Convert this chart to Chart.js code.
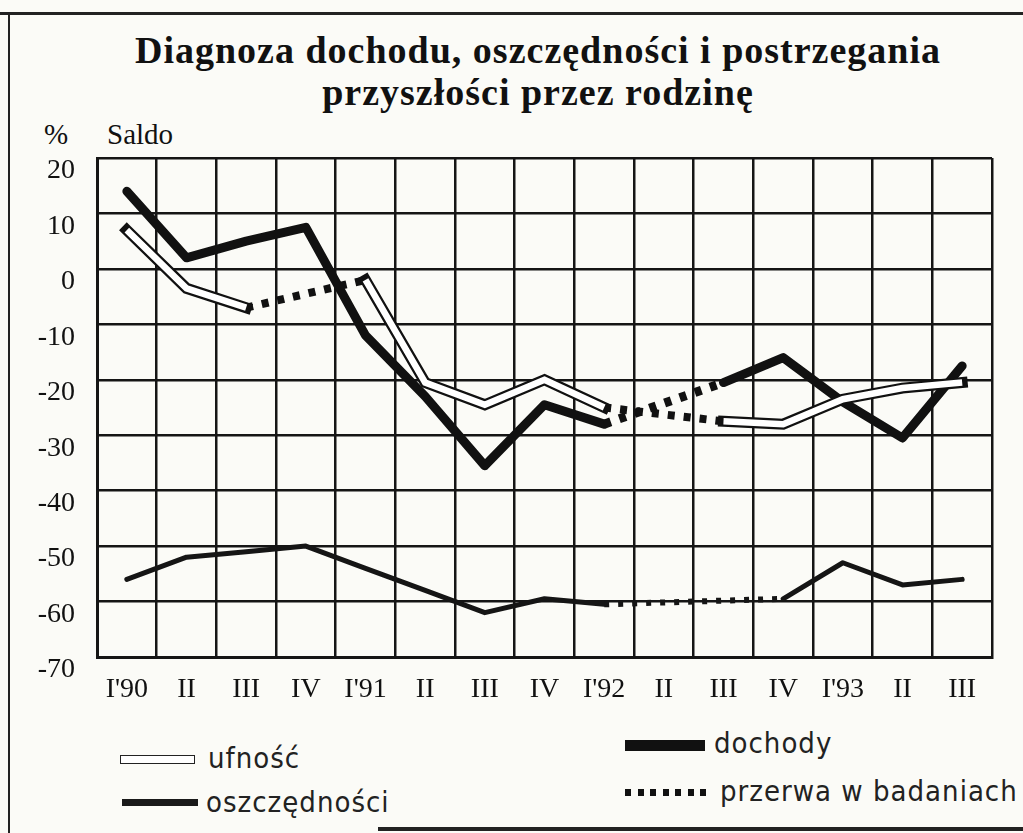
<!DOCTYPE html>
<html lang="pl">
<head>
<meta charset="utf-8">
<title>Diagnoza dochodu</title>
<script src="https://cdn.jsdelivr.net/npm/chart.js@4.4.1/dist/chart.umd.min.js"></script>
<style>
  html, body { margin: 0; padding: 0; }
  body { width: 1023px; height: 833px; background: #fbfbf7; position: relative; overflow: hidden; color: #111; }
  .frame-top { position: absolute; left: 0; top: 12px; width: 1023px; height: 3px; background: #222; }
  .frame-left { position: absolute; left: 8px; top: 12px; width: 2px; height: 821px; background: #222; }
  .frame-bottom { position: absolute; left: 378px; top: 827px; width: 645px; height: 4px; background: #222; }
  .title { position: absolute; left: 0; top: 29px; width: 1076px; text-align: center;
           font-family: "Liberation Serif", "Times New Roman", serif; font-weight: bold;
           font-size: 38px; line-height: 42px; letter-spacing: 1px; }
  .unit { position: absolute; top: 118px; font-family: "Liberation Serif", serif; font-size: 29px; }
  #chartBox { position: absolute; left: 0; top: 130px; width: 1023px; height: 580px; }
  .leg { position: absolute; font-family: "Liberation Sans Narrow", "DejaVu Sans Condensed", "Liberation Sans", sans-serif;
         font-size: 29px; color: #222; line-height: 32px; letter-spacing: 1px; }
  .sw { position: absolute; }
</style>
</head>
<body>
<div class="frame-top"></div>
<div class="frame-left"></div>
<div class="frame-bottom"></div>

<div class="title">Diagnoza dochodu, oszczędności i postrzegania<br>przyszłości przez rodzinę</div>
<div class="unit" style="left:44px;">%</div>
<div class="unit" style="left:107px;">Saldo</div>

<div id="chartBox"><canvas id="chart"></canvas></div>

<!-- legend -->
<div class="sw" style="left:120px; top:755px; width:73px; height:7px; border:1.5px solid #222; background:#fff;"></div>
<div class="leg" style="left:208px; top:742px;">ufność</div>
<div class="sw" style="left:122px; top:799px; width:76px; height:7px; background:#1a1a1a;"></div>
<div class="leg" style="left:206px; top:786px;">oszczędności</div>
<div class="sw" style="left:625px; top:740px; width:80px; height:11px; background:#111;"></div>
<div class="leg" style="left:714px; top:727px;">dochody</div>
<div id="dots" class="sw" style="left:625px; top:789px; width:86px; height:7px;"></div>
<div class="leg" style="left:720px; top:775px;">przerwa w badaniach</div>

<script>
// quarters I'90 .. III'93
const quarters = ["I'90", "II", "III", "IV", "I'91", "II", "III", "IV", "I'92", "II", "III", "IV", "I'93", "II", "III"];

// saldo, % (null = przerwa w badaniach)
const dochody      = [14, 2, 5, 7.5, -12, -23, -35.5, -24.5, -28, null, -20.5, -16, -24, -30.5, -17.5];
const ufnosc       = [7, -3.5, -7, null, -2, -20.5, -24.5, -20, -25, null, -27.5, -28, -23.5, -21.5, -20.5];
const oszczednosci = [-56, -52, -51, -50, -54, -58, -62, -59.5, -60.5, null, null, -59.5, -53, -57, -56];

const yMin = -70, yMax = 20, yStep = 10;

// legend dots
const dots = document.getElementById('dots');
for (let i = 0; i < 7; i++) {
    dots.insertAdjacentHTML('beforeend',
        `<span style="position:absolute; left:${i * 12.5}px; top:0; width:6px; height:7px; background:#111;"></span>`);
}

// dashed line across missing quarters
const gap = (ctx, v) => (ctx.p0.skip || ctx.p1.skip) ? v : undefined;

new Chart(document.getElementById('chart'), {
    type: 'line',
    data: {
        labels: quarters,
        datasets: [
            {
                label: 'ufność',
                data: ufnosc,
                borderColor: '#fff',
                borderWidth: 6.5,
                spanGaps: false,
                borderCapStyle: 'butt',
                borderJoinStyle: 'miter',
                pointRadius: 0,
                order: 1
            },
            {
                label: 'ufność (kontur)',
                data: ufnosc,
                borderColor: '#111',
                borderWidth: 11,
                spanGaps: true,
                borderCapStyle: 'square',
                borderJoinStyle: 'miter',
                pointRadius: 0,
                order: 2,
                segment: {
                    borderDash: ctx => gap(ctx, [7, 9]),
                    borderWidth: ctx => gap(ctx, 8),
                    borderCapStyle: ctx => gap(ctx, 'butt')
                }
            },
            {
                label: 'dochody',
                data: dochody,
                borderColor: '#111',
                borderWidth: 9,
                spanGaps: true,
                borderCapStyle: 'round',
                borderJoinStyle: 'round',
                pointRadius: 0,
                order: 3,
                segment: {
                    borderDash: ctx => gap(ctx, [7, 9]),
                    borderCapStyle: ctx => gap(ctx, 'butt')
                }
            },
            {
                label: 'oszczędności',
                data: oszczednosci,
                borderColor: '#151515',
                borderWidth: 5,
                spanGaps: true,
                borderCapStyle: 'round',
                borderJoinStyle: 'round',
                pointRadius: 0,
                order: 4,
                segment: {
                    borderDash: ctx => gap(ctx, [5, 9]),
                    borderWidth: ctx => gap(ctx, 6),
                    borderCapStyle: ctx => gap(ctx, 'butt')
                }
            }
        ]
    },
    options: {
        responsive: true,
        maintainAspectRatio: false,
        animation: false,
        layout: { padding: { top: 28, right: 31, left: 0, bottom: 0 } },
        plugins: {
            legend: { display: false },
            tooltip: { enabled: false },
            title: { display: false }
        },
        scales: {
            x: {
                type: 'category',
                offset: true,
                grid: { offset: true, color: '#151515', lineWidth: 2.5, drawTicks: false },
                border: { display: true, color: '#151515', width: 3 },
                ticks: {
                    color: '#111',
                    padding: 16,
                    maxRotation: 0,
                    autoSkip: false,
                    font: { family: "'Liberation Serif', serif", size: 28 }
                },
                afterFit: scale => {
                    scale.height = 53;
                    scale.paddingLeft = 0;
                    scale.paddingRight = 0;
                }
            },
            y: {
                min: yMin,
                max: yMax,
                grid: { color: '#151515', lineWidth: 2.5, drawTicks: false },
                border: { display: true, color: '#151515', width: 3 },
                ticks: {
                    stepSize: yStep,
                    color: '#111',
                    padding: 22,
                    labelOffset: 13,
                    font: { family: "'Liberation Serif', serif", size: 28 }
                },
                afterFit: scale => {
                    scale.width = 97;
                    scale.paddingTop = 0;
                    scale.paddingBottom = 0;
                }
            }
        }
    }
});
</script>
</body>
</html>
